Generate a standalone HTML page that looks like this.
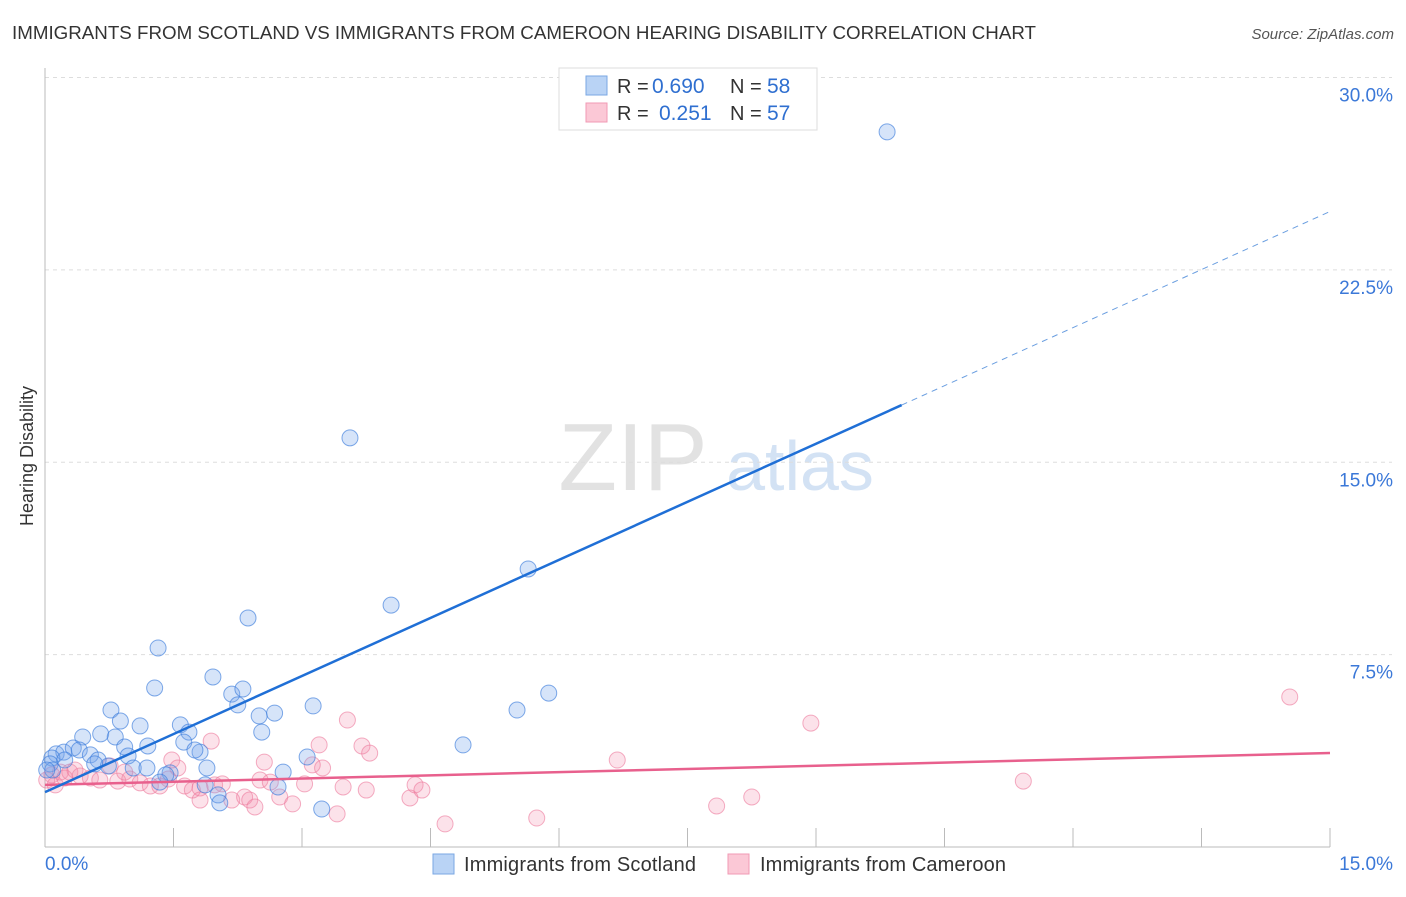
<!DOCTYPE html>
<html><head><meta charset="utf-8"><style>
body{margin:0;background:#fff;font-family:"Liberation Sans",sans-serif}
svg text{font-family:"Liberation Sans",sans-serif}
</style></head><body>
<svg id="chart" width="1406" height="892" xmlns="http://www.w3.org/2000/svg">
<text x="12" y="39" font-size="18" fill="#333" textLength="1024" lengthAdjust="spacingAndGlyphs">IMMIGRANTS FROM SCOTLAND VS IMMIGRANTS FROM CAMEROON HEARING DISABILITY CORRELATION CHART</text>
<text x="1394" y="39" font-size="15" fill="#555" text-anchor="end" font-style="italic">Source: ZipAtlas.com</text>
<text transform="translate(33,456) rotate(-90)" font-size="18" fill="#333" text-anchor="middle">Hearing Disability</text>
<g>
<text x="633" y="490" font-size="96" fill="#e2e2e2" text-anchor="middle" font-family="Liberation Serif,serif">ZIP</text>
<text x="800" y="490" font-size="70" fill="#d3e2f4" text-anchor="middle">atlas</text>
</g>
<g id="grid"></g><g id="axes"></g><g id="marks"></g>
<g>
<rect x="559" y="68" width="258" height="62" fill="#fff" stroke="#ddd"/>
<rect x="586" y="76" width="21" height="19" fill="#b9d3f5" stroke="#7aa7e3"/>
<rect x="586" y="103" width="21" height="19" fill="#fbc8d6" stroke="#f09ab4"/>
<text x="617" y="93" font-size="20" fill="#333">R =</text>
<text x="652" y="93" font-size="21" fill="#2f6fd0">0.690</text>
<text x="730" y="93" font-size="20" fill="#333">N =</text>
<text x="767" y="93" font-size="21" fill="#2f6fd0">58</text>
<text x="617" y="120" font-size="20" fill="#333">R =</text>
<text x="659" y="120" font-size="21" fill="#2f6fd0">0.251</text>
<text x="730" y="120" font-size="20" fill="#333">N =</text>
<text x="767" y="120" font-size="21" fill="#2f6fd0">57</text>
</g>
<g>
<rect x="433" y="854" width="21" height="20" fill="#b9d3f5" stroke="#7aa7e3"/>
<text x="464" y="871" font-size="20" fill="#333" textLength="232">Immigrants from Scotland</text>
<rect x="728" y="854" width="21" height="20" fill="#fbc8d6" stroke="#f09ab4"/>
<text x="760" y="871" font-size="20" fill="#333" textLength="246">Immigrants from Cameroon</text>
</g>
</svg>
<script>
const yTicks=[7.5,15,22.5,30];
const yTickLabels=["7.5%","15.0%","22.5%","30.0%"];
const xEndLabels=["0.0%","15.0%"];
const scotX=[9.83,3.56,5.64,4.04,2.37,1.32,1.28,1.96,2.18,2.31,2.25,5.88,5.51,3.13,2.50,2.68,0.77,0.88,1.11,1.58,1.68,2.53,0.65,0.82,0.44,0.93,1.20,1.62,1.81,1.75,4.88,3.06,0.13,0.22,0.33,0.40,0.53,0.62,0.97,0.08,0.74,1.03,1.19,1.46,1.41,1.89,0.58,2.78,1.87,1.34,0.06,2.02,2.04,2.72,3.23,0.09,0.02,0.23];
const scotY=[27.88,15.95,10.84,9.43,8.93,7.76,6.20,6.63,5.96,6.16,5.54,6.00,5.34,5.50,5.11,5.22,5.34,4.91,4.72,4.76,4.48,4.48,4.41,4.29,4.29,3.90,3.94,4.09,3.70,3.78,3.98,3.51,3.63,3.70,3.86,3.78,3.59,3.39,3.55,3.47,3.16,3.08,3.08,2.89,2.81,3.08,3.24,2.92,2.42,2.53,3.24,2.03,1.72,2.34,1.48,3.00,3.00,3.39];
const camX=[14.53,8.94,3.53,6.68,11.42,1.94,2.56,3.20,3.70,3.79,3.24,1.48,1.55,0.08,0.18,0.29,0.41,0.53,0.64,0.85,0.99,1.11,1.23,1.34,1.44,1.63,1.72,1.81,1.98,2.07,2.18,2.33,2.39,2.45,2.51,2.74,2.89,3.03,3.41,3.48,3.75,4.26,4.32,4.40,4.67,5.74,7.84,8.25,0.02,0.12,0.76,0.93,0.23,0.35,1.81,2.63,3.12];
const camY=[5.85,4.83,4.95,3.39,2.57,4.13,3.31,3.98,3.94,3.66,3.08,3.39,3.08,2.81,2.92,2.92,2.77,2.69,2.61,2.57,2.65,2.50,2.38,2.38,2.65,2.38,2.22,2.30,2.42,2.46,1.83,1.95,1.83,1.56,2.61,1.95,1.68,2.46,1.29,2.34,2.22,1.91,2.42,2.22,0.90,1.13,1.60,1.95,2.61,2.42,3.16,2.92,2.69,3.00,1.83,2.53,3.20];
const scotTrend=[2.14,1.509];   // intercept, slope
const camTrend=[2.42,0.083];
const X0=45,X1=1330,Y0=847,PXY=25.65;
const sx=v=>X0+v*(X1-X0)/15, sy=v=>Y0-v*PXY;
const NS="http://www.w3.org/2000/svg";
function mk(tag,attrs,parent){const e=document.createElementNS(NS,tag);for(const k in attrs)e.setAttribute(k,attrs[k]);document.getElementById(parent).appendChild(e);return e;}
yTicks.forEach((t,i)=>{
 const g=mk('line',{x1:X0,x2:1392,y1:sy(t),y2:sy(t),stroke:'#ddd','stroke-dasharray':'4,4'},'grid');
 
 
 const l=mk('text',{x:1393,y:sy(t)+24,'font-size':19,fill:'#3b78d8','text-anchor':'end'},'grid');
 l.textContent=yTickLabels[i];
 
 
});
const ax=mk('line',{x1:X0,x2:X0,y1:68,y2:Y0,stroke:'#bbb'},'axes');


const bx=mk('line',{x1:X0,x2:X1,y1:Y0,y2:Y0,stroke:'#bbb'},'axes');


for(let i=0;i<=10;i++){
 const t=mk('line',{x1:sx(i*1.5),x2:sx(i*1.5),y1:828,y2:Y0,stroke:'#bbb'},'axes');
 
 
}
[[0,'start',45],[15,'end',1393]].forEach((d,i)=>{
 const l=mk('text',{x:d[2],y:870,'font-size':19,fill:'#3b78d8','text-anchor':d[1]},'axes');
 l.textContent=xEndLabels[i];
 
 
});
camX.forEach((x,i)=>{
 const c=mk('circle',{cx:sx(x),cy:sy(camY[i]),r:8,fill:'rgba(244,140,170,0.25)',stroke:'rgba(236,120,155,0.6)','stroke-width':1},'marks');
 
 
});
scotX.forEach((x,i)=>{
 const c=mk('circle',{cx:sx(x),cy:sy(scotY[i]),r:8,fill:'rgba(120,165,235,0.3)',stroke:'rgba(60,125,220,0.65)','stroke-width':1},'marks');
 
 
});
const ct=mk('line',{x1:sx(0),y1:sy(camTrend[0]),x2:sx(15),y2:sy(camTrend[0]+15*camTrend[1]),stroke:'#e8608d','stroke-width':2.5},'marks');


const xs=10;
const st=mk('line',{x1:sx(0),y1:sy(scotTrend[0]),x2:sx(xs),y2:sy(scotTrend[0]+xs*scotTrend[1]),stroke:'#1f6fd6','stroke-width':2.5},'marks');


const sd=mk('line',{x1:sx(xs),y1:sy(scotTrend[0]+xs*scotTrend[1]),x2:sx(15),y2:sy(scotTrend[0]+15*scotTrend[1]),stroke:'#6a9ee0','stroke-width':1,'stroke-dasharray':'6,5'},'marks');


</script>
</body></html>
